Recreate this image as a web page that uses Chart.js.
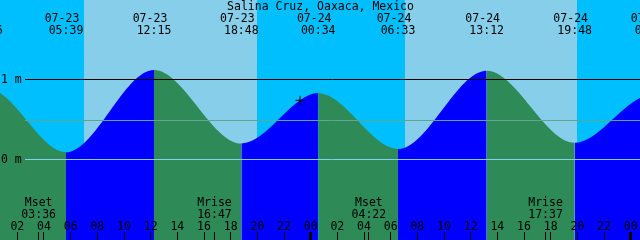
<!DOCTYPE html>
<html>
<head>
<meta charset="utf-8">
<script src="https://cdn.jsdelivr.net/npm/chart.js@4"></script>
<style>
  body { margin: 0; background: #fff; }
  #box { width: 640px; height: 240px; }
</style>
</head>
<body>
<div id="box"><canvas id="tideChart" width="640" height="240"></canvas></div>
<script>
// times are hours from 07-23 00:00
var title = 'Salina Cruz, Oaxaca, Mexico';

// high and low waters
var tideTimes   = [-0.4, 5.65, 12.25, 18.8, 24.567, 30.55, 37.2, 43.8, 49.6];
var tideHeights = [0.90, 0.09, 1.12, 0.20, 0.83, 0.13, 1.11, 0.21, 0.81];
var tideDates   = ['07-22', '07-23', '07-23', '07-23', '07-24', '07-24', '07-24', '07-24', '07-25'];
var tideClock   = ['23:36', '05:39', '12:15', '18:48', '00:34', '06:33', '13:12', '19:48', '01:36'];

// water level read at the left and right edges of the graph
var edgeTimes   = [0.7, 48.7];
var edgeHeights = [0.83, 0.77];

var sunRise = [7.0, 31.07];
var sunSet  = [19.98, 43.98];

var moonNames = ['Mset', 'Mrise', 'Mset', 'Mrise'];
var moonTimes = [3.6, 16.783, 28.367, 41.617];
var moonClock = ['03:36', '16:47', '04:22', '17:37'];

var hourTicks  = [2, 4, 6, 8, 10, 12, 14, 16, 18, 20, 22, 24, 26, 28, 30, 32, 34, 36, 38, 40, 42, 44, 46, 48];
var hourLabels = ['02', '04', '06', '08', '10', '12', '14', '16', '18', '20', '22', '00',
                  '02', '04', '06', '08', '10', '12', '14', '16', '18', '20', '22', '00'];
var midnights = [24, 48];

var levelValues = [1, 0.49, 0];
var levelLabels = ['1 m', '', '0 m'];

var nowTime = 23.2;
var nowHeight = 0.74;

var colors = {
  night: '#00BFFF',
  day: '#87CEEB',
  rising: '#0000FF',
  falling: '#2E8B57',
  levels: ['#000000', '#5FA595', '#86CFEA']
};
var font = '11.5px "DejaVu Sans Mono", monospace';

var tidePoints = tideTimes.map(function (t, i) { return { x: t, y: tideHeights[i] }; })
  .concat(edgeTimes.map(function (t, i) { return { x: t, y: edgeHeights[i] }; }))
  .sort(function (a, b) { return a.x - b.x; });

function px(v) { return Math.floor(v) + 0.5; }

// sky behind the water
var skyPlugin = {
  id: 'sky',
  beforeDatasetsDraw: function (chart) {
    var c = chart.ctx, a = chart.chartArea, xs = chart.scales.x;
    c.save();
    c.fillStyle = colors.night;
    c.fillRect(a.left, a.top, a.right - a.left, a.bottom - a.top);
    c.fillStyle = colors.day;
    for (var i = 0; i < sunRise.length; i++) {
      var x0 = Math.round(xs.getPixelForValue(sunRise[i]));
      var x1 = Math.round(xs.getPixelForValue(sunSet[i]));
      c.fillRect(x0, a.top, x1 - x0, a.bottom - a.top);
    }
    c.restore();
  }
};

// level lines, tick marks and all the text
var marksPlugin = {
  id: 'marks',
  afterDatasetsDraw: function (chart) {
    var c = chart.ctx, a = chart.chartArea, xs = chart.scales.x, ys = chart.scales.y;
    c.save();
    c.lineWidth = 1;
    c.font = font;
    c.fillStyle = '#000';

    levelValues.forEach(function (v, i) {
      var y = px(ys.getPixelForValue(v));
      c.strokeStyle = colors.levels[i];
      c.beginPath();
      c.moveTo(25, y);
      c.lineTo(a.right, y);
      c.stroke();
      if (levelLabels[i]) {
        c.textAlign = 'left';
        c.fillText(levelLabels[i], 1, y + 3.5);
      }
    });

    c.textAlign = 'center';
    c.fillText(title, 320.5, 10);

    tideTimes.forEach(function (t, i) {
      var x = xs.getPixelForValue(t);
      c.fillText(tideDates[i], x - 4, 21.5);
      c.fillText(tideClock[i], x, 33.5);
    });

    c.strokeStyle = '#000';
    hourTicks.forEach(function (t, i) {
      var x = xs.getPixelForValue(t);
      c.fillText(hourLabels[i], x, 229.5);
      c.beginPath();
      c.moveTo(px(x), 232);
      c.lineTo(px(x), 240);
      c.stroke();
    });

    midnights.forEach(function (t) {
      var x = Math.floor(xs.getPixelForValue(t));
      c.fillRect(x - 1, 232, 3, 8);
    });

    moonTimes.forEach(function (t, i) {
      var x = xs.getPixelForValue(t);
      c.fillText(moonNames[i], x, 206);
      c.fillText(moonClock[i], x, 218);
      c.beginPath();
      c.moveTo(px(x), 232);
      c.lineTo(px(x), 240);
      c.stroke();
    });
    c.restore();
  }
};

var ctx = document.getElementById('tideChart').getContext('2d');

var tideChart = new Chart(ctx, {
  type: 'line',
  data: {
    datasets: [
      {
        label: 'now',
        data: [{ x: nowTime, y: nowHeight }],
        showLine: false,
        pointStyle: 'cross',
        pointRadius: 4.5,
        borderColor: '#000',
        borderWidth: 1,
        fill: false
      },
      {
        label: 'tide',
        data: tidePoints,
        cubicInterpolationMode: 'monotone',
        borderWidth: 0,
        borderColor: 'rgba(0,0,0,0)',
        pointRadius: 0,
        fill: 'start',
        backgroundColor: colors.falling,
        segment: {
          backgroundColor: function (s) {
            return s.p1.parsed.y > s.p0.parsed.y ? colors.rising : colors.falling;
          }
        }
      }
    ]
  },
  options: {
    responsive: false,
    animation: false,
    devicePixelRatio: 1,
    layout: { padding: 0, autoPadding: false },
    plugins: {
      legend: { display: false },
      tooltip: { enabled: false }
    },
    scales: {
      x: { type: 'linear', min: 0.7, max: 48.7, display: false },
      y: { type: 'linear', min: -1.00625, max: 1.99375, display: false }
    }
  },
  plugins: [skyPlugin, marksPlugin]
});
</script>
</body>
</html>
